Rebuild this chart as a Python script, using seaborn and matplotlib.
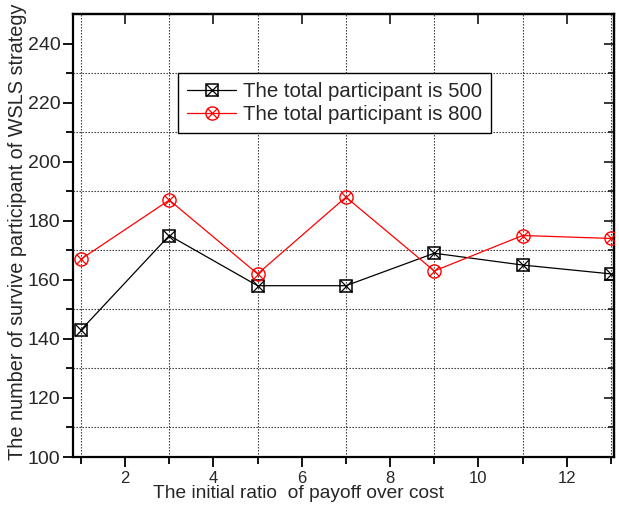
import matplotlib
matplotlib.use("Agg")
import matplotlib.pyplot as plt
import seaborn as sns
import pandas as pd
from matplotlib.lines import Line2D
from matplotlib.legend_handler import HandlerTuple

ratio = [1, 3, 5, 7, 9, 11, 13]
total500 = [143, 175, 158, 158, 169, 165, 162]
total800 = [167, 187, 162, 188, 163, 175, 174]
labels = ["The total participant is 500", "The total participant is 800"]
colors = ["#000000", "#FF0000"]

sns.set_theme(style="white")
plt.rcParams["font.family"] = ["Liberation Sans", "DejaVu Sans"]

fig = plt.figure(figsize=(6.19, 5.08), dpi=100)
ax = fig.add_axes([73/619, 51/508, 541/619, 443/508])

df500 = pd.DataFrame({"x": ratio, "y": total500})
df800 = pd.DataFrame({"x": ratio, "y": total800})

SQ, SQX, CI, CIX = 9, 8, 9.5, 6.8

sns.lineplot(data=df500, x="x", y="y", ax=ax, color=colors[0], lw=0.9,
             marker="s", ms=SQ, mfc="none", mec=colors[0], mew=1.1, zorder=3)
sns.lineplot(data=df500, x="x", y="y", ax=ax, color=colors[0], lw=0,
             marker="x", ms=SQX, mec=colors[0], mew=0.9, zorder=4)
sns.lineplot(data=df800, x="x", y="y", ax=ax, color=colors[1], lw=0.9,
             marker="o", ms=CI, mfc="none", mec=colors[1], mew=1.0, zorder=3)
sns.lineplot(data=df800, x="x", y="y", ax=ax, color=colors[1], lw=0,
             marker="x", ms=CIX, mec=colors[1], mew=0.9, zorder=4)

ax.set_xlim(0.82, 13.07)
ax.set_ylim(100, 250)
ax.set_yticks([100, 120, 140, 160, 180, 200, 220, 240])
ax.set_xticks([2, 4, 6, 8, 10, 12])
ax.set_xticks([1, 3, 5, 7, 9, 11, 13], minor=True)
ax.set_yticks([110, 130, 150, 170, 190, 210, 230], minor=True)

ax.grid(False)
ax.grid(which="minor", color="#222222", linestyle=(0, (1.2, 1.5)), linewidth=0.8)
ax.set_axisbelow(True)

for s in ax.spines.values():
    s.set_color("black")
    s.set_linewidth(1.6)

ax.tick_params(axis="both", which="both", direction="out", color="black",
               width=1.3, bottom=True, left=True)
ax.tick_params(axis="both", which="major", length=7)
ax.tick_params(axis="both", which="minor", length=5)
ax.tick_params(axis="y", which="major", labelsize=14, pad=2)
ax.tick_params(axis="x", which="major", labelsize=12, pad=3)
sec_x = ax.secondary_xaxis("top")
sec_x.set_xticks([2, 4, 6, 8, 10, 12])
sec_x.set_xticklabels([])
sec_x.tick_params(direction="in", length=7, width=1.3)
sec_x.spines["top"].set_linewidth(1.6)
sec_y = ax.secondary_yaxis("right")
sec_y.set_yticks([100, 120, 140, 160, 180, 200, 220, 240])
sec_y.set_yticks([110, 130, 150, 170, 190, 210, 230], minor=True)
sec_y.set_yticklabels([])
sec_y.tick_params(which="major", direction="in", length=7, width=1.3)
sec_y.tick_params(which="minor", direction="in", length=4, width=1.3)
sec_y.spines["right"].set_linewidth(1.6)

ax.set_xlabel("")
ax.set_ylabel("")
fig.text(298/619, (508-493)/508, "The initial ratio  of payoff over cost",
         ha="center", va="center", fontsize=13.8)
fig.text(18/619, (508-460)/508, "The number of survive participant of WSLS strategy",
         rotation=90, ha="center", va="bottom", fontsize=14.3)

h500 = (Line2D([], [], color=colors[0], lw=0.9, marker="s", ms=SQ, mfc="none", mew=1.1),
        Line2D([], [], color=colors[0], lw=0, marker="x", ms=SQX, mew=0.9))
h800 = (Line2D([], [], color=colors[1], lw=0.9, marker="o", ms=CI, mfc="none", mew=1.0),
        Line2D([], [], color=colors[1], lw=0, marker="x", ms=CIX, mew=0.9))
leg = ax.legend([h500, h800], labels, handler_map={tuple: HandlerTuple(ndivide=1)},
                loc="upper left", bbox_to_anchor=(0.194, 0.867), fontsize=14.7,
                frameon=True, fancybox=False, framealpha=1, edgecolor="black",
                borderpad=0.45, labelspacing=0.2, handlelength=2.4, handletextpad=0.35,
                borderaxespad=0)
leg.get_frame().set_linewidth(1.0)

fig.savefig("out.png", dpi=100)
